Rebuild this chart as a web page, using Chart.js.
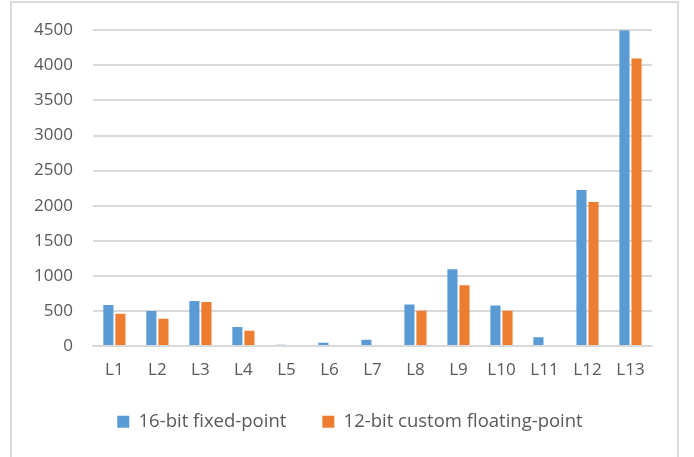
<!DOCTYPE html>
<html>
<head>
<meta charset="utf-8">
<script src="https://cdn.jsdelivr.net/npm/chart.js@4/dist/chart.umd.min.js"></script>
<style>
  html, body { margin: 0; padding: 0; background: #fff; }
  #wrap { position: relative; width: 694px; height: 457px; overflow: hidden; }
  #frame { position: absolute; left: 10px; top: 1px; width: 669px; height: 480px; border: 2px solid #d9d9d9; box-sizing: border-box; }
  canvas { position: absolute; left: 0; top: 0; }
</style>
</head>
<body>
<div id="wrap">
  <div id="frame"></div>
  <canvas id="chart" width="694" height="457"></canvas>
</div>
<script>
// values
const layers = ["L1", "L2", "L3", "L4", "L5", "L6", "L7", "L8", "L9", "L10", "L11", "L12", "L13"];
const fixed16 = [586, 500, 643, 271, 18, 47, 90, 591, 1095, 577, 126, 2222, 4500];
const float12 = [461, 390, 629, 219, 0, 0, 0, 504, 868, 504, 0, 2052, 4097];
const yTicks = [0, 500, 1000, 1500, 2000, 2500, 3000, 3500, 4000, 4500];

const font = { family: "'Open Sans', sans-serif", size: 17 };
const legendFont = { family: "'Open Sans', sans-serif", size: 18.5 };
const textColor = "#595959";

// legend sits centred on the whole frame in the original, a bit higher than Chart.js puts it
const legendNudge = {
  id: "legendNudge",
  afterLayout(chart) {
    const lg = chart.legend;
    if (!lg) return;
    lg.left += 17;
    lg.right += 17;
    lg.top -= 10;
    lg.bottom -= 10;
  }
};

new Chart(document.getElementById("chart"), {
  type: "bar",
  data: {
    labels: layers,
    datasets: [
      {
        label: "16-bit fixed-point",
        data: fixed16,
        backgroundColor: "#5b9bd5",
        borderWidth: 0,
        categoryPercentage: 0.56,
        barPercentage: 0.84
      },
      {
        label: "12-bit custom floating-point",
        data: float12,
        backgroundColor: "#ed7d31",
        borderWidth: 0,
        categoryPercentage: 0.56,
        barPercentage: 0.84
      }
    ]
  },
  options: {
    responsive: false,
    animation: false,
    layout: { padding: { left: 14, right: 42, top: 22, bottom: 6 } },
    plugins: {
      legend: {
        position: "bottom",
        labels: {
          color: textColor,
          font: legendFont,
          boxWidth: 12,
          boxHeight: 12,
          padding: 36
        }
      },
      tooltip: { enabled: false }
    },
    scales: {
      x: {
        grid: { display: false },
        border: { color: "#d9d9d9", width: 2 },
        ticks: { color: textColor, font: font, padding: 6 }
      },
      y: {
        min: 0,
        max: 4500,
        afterBuildTicks: (axis) => { axis.ticks = yTicks.map((v) => ({ value: v })); },
        grid: { color: "#d9d9d9", lineWidth: 2, drawTicks: false },
        border: { display: false },
        ticks: { color: textColor, font: font, padding: 20, callback: (v) => String(v) }
      }
    }
  },
  plugins: [legendNudge]
});
</script>
</body>
</html>
